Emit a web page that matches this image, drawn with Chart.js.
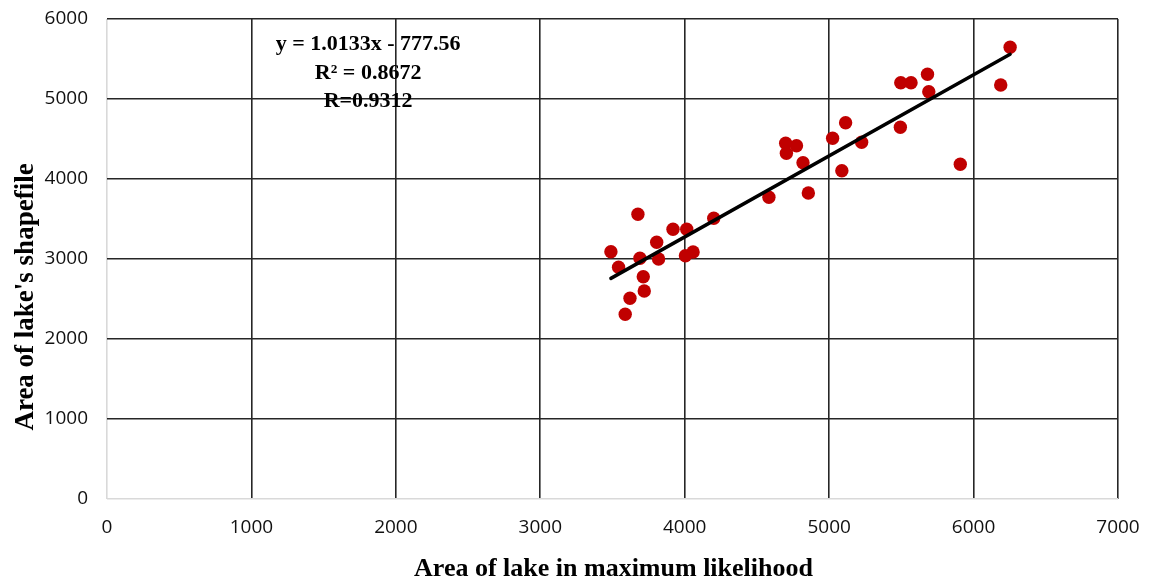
<!DOCTYPE html>
<html><head><meta charset="utf-8">
<script src="https://cdn.jsdelivr.net/npm/chart.js@4.4.0/dist/chart.umd.min.js"></script>
<style>html,body{margin:0;padding:0;background:#fff}#wrap{width:1152px;height:581px}</style>
</head><body><div id="wrap"><canvas id="c" width="1152" height="581"></canvas></div>
<script>
// Area of lake in maximum likelihood (x) vs area of lake's shapefile (y)
const mlArea = [3489,3542,3676,3690,3806,3819,3713,3720,3621,3588,3919,4014,4005,4058,4201,4583,4856,4819,4704,4699,4774,5024,5114,5088,5225,5493,5496,5567,5681,5690,5908,6188,6253];
const shapeArea = [3091,2896,3559,3009,3209,3000,2779,2600,2509,2309,3371,3371,3041,3088,3509,3771,3825,4204,4321,4446,4416,4509,4704,4104,4459,4646,5204,5204,5309,5091,4184,5175,5646];
const xTicks = [0,1000,2000,3000,4000,5000,6000,7000];
const yTicks = [0,1000,2000,3000,4000,5000,6000];
const trendSlope = 1.0133;
const trendIntercept = -777.56;
const equationLines = ['y = 1.0133x - 777.56', 'R\u00B2 = 0.8672', 'R=0.9312'];
const xTitle = 'Area of lake in maximum likelihood';
const yTitle = "Area of lake's shapefile";

const points = mlArea.map((x, i) => ({x: x, y: shapeArea[i]}));
const xMin = Math.min(...mlArea), xMax = Math.max(...mlArea);
const trend = [xMin, xMax].map(x => ({x: x, y: trendSlope * x + trendIntercept}));

const textPlugin = {
  id: 'texts',
  afterDraw(chart) {
    const ctx = chart.ctx;
    const xs = chart.scales.x, ys = chart.scales.y;
    ctx.save();
    ctx.fillStyle = '#000';
    // equation block
    ctx.font = 'bold 22px "Liberation Serif", "Times New Roman", serif';
    ctx.textAlign = 'center';
    ctx.textBaseline = 'alphabetic';
    const ex = xs.getPixelForValue(1808);
    const ey = ys.getPixelForValue(5612);
    equationLines.forEach((t, i) => ctx.fillText(t, ex, ey + i * 28.5));
    // x axis title
    ctx.font = 'bold 26px "Liberation Serif", "Times New Roman", serif';
    ctx.fillText(xTitle, (chart.chartArea.left + chart.chartArea.right) / 2 + 1, 576);
    // y axis title
    ctx.font = 'bold 27px "Liberation Serif", "Times New Roman", serif';
    ctx.translate(33, 297);
    ctx.rotate(-Math.PI / 2);
    ctx.fillText(yTitle, 0, 0);
    ctx.restore();
  }
};

const gridColor = c => (c.tick && c.tick.value === 0) ? '#d9d9d9' : '#262626';
const plainLabel = v => String(v);

new Chart(document.getElementById('c'), {
  type: 'scatter',
  data: {
    datasets: [
      {
        label: 'Linear trend',
        type: 'line',
        data: trend,
        borderColor: '#000',
        borderWidth: 3.5,
        borderCapStyle: 'round',
        pointRadius: 0,
        fill: false,
        order: 0
      },
      {
        label: 'Lakes',
        data: points,
        backgroundColor: '#C00000',
        borderColor: '#C00000',
        borderWidth: 0,
        pointRadius: 6.7,
        order: 1
      }
    ]
  },
  options: {
    responsive: false,
    animation: false,
    devicePixelRatio: 1,
    events: [],
    layout: {padding: {left: 0, right: 34, top: 19, bottom: 0}},
    plugins: {legend: {display: false}, tooltip: {enabled: false}},
    scales: {
      x: {
        type: 'linear', min: 0, max: 7000,
        afterBuildTicks: s => { s.ticks = xTicks.map(v => ({value: v})); },
        afterFit: s => { s.height = 82; s.paddingLeft = 0; s.paddingRight = 0; },
        border: {display: false},
        grid: {color: gridColor, lineWidth: 1.6, drawTicks: false},
        ticks: {padding: 17, color: '#111', callback: plainLabel, font: {family: '"Open Sans", sans-serif', size: 19}}
      },
      y: {
        type: 'linear', min: 0, max: 6000,
        afterBuildTicks: s => { s.ticks = yTicks.map(v => ({value: v})); },
        afterFit: s => { s.width = 107; s.paddingTop = 0; s.paddingBottom = 0; },
        border: {display: false},
        grid: {color: gridColor, lineWidth: 1.6, drawTicks: false},
        ticks: {padding: 19, color: '#111', callback: plainLabel, font: {family: '"Open Sans", sans-serif', size: 19}}
      }
    }
  },
  plugins: [textPlugin]
});
</script></body></html>
